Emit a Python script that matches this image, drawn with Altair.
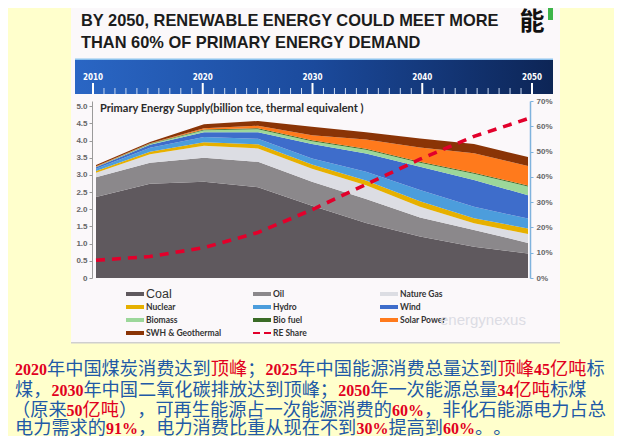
import altair as alt
import pandas as pd

# ---------------- data ----------------
years = [2010, 2015, 2020, 2025, 2030, 2035, 2040, 2045, 2050]
sources = ["Coal", "Oil", "Nature Gas", "Nuclear", "Hydro", "Wind",
           "Biomass", "Bio fuel", "Solar Power", "SWH & Geothermal"]
coal    = [2.36, 2.74, 2.80, 2.64, 2.10, 1.60, 1.21, 0.91, 0.71]
oil     = [0.57, 0.61, 0.70, 0.74, 0.70, 0.70, 0.55, 0.49, 0.31]
gas     = [0.13, 0.25, 0.35, 0.39, 0.38, 0.40, 0.31, 0.19, 0.26]
nuclear = [0.05, 0.07, 0.10, 0.12, 0.12, 0.14, 0.16, 0.15, 0.16]
hydro   = [0.07, 0.12, 0.15, 0.16, 0.18, 0.25, 0.33, 0.33, 0.29]
wind    = [0.04, 0.09, 0.14, 0.19, 0.42, 0.53, 0.68, 0.78, 0.68]
biomass = [0.01, 0.02, 0.06, 0.09, 0.08, 0.11, 0.11, 0.18, 0.25]
biofuel = [0.01, 0.01, 0.02, 0.03, 0.03, 0.03, 0.03, 0.03, 0.03]
solar   = [0.01, 0.01, 0.04, 0.07, 0.14, 0.27, 0.42, 0.57, 0.57]
swh     = [0.04, 0.04, 0.11, 0.14, 0.25, 0.21, 0.26, 0.27, 0.26]
re_share = [0.07, 0.085, 0.12, 0.18, 0.27, 0.37, 0.47, 0.56, 0.63]

colors = ["#5F595E", "#8B888B", "#DCDDE3", "#E6B000", "#4C9DDC",
          "#3E6DCB", "#9CD79A", "#3A6B26", "#FF7A1C", "#8A3406"]
RE_COLOR = "#E2002B"

left_ticks = [0, 0.5, 1.0, 1.5, 2.0, 2.5, 3.0, 3.5, 4.0, 4.5, 5.0]
right_ticks = [0, 0.1, 0.2, 0.3, 0.4, 0.5, 0.6, 0.7]
band_years = list(range(2010, 2051))
band_labels = [2010, 2020, 2030, 2040, 2050]

title_lines = ["BY 2050, RENEWABLE ENERGY COULD MEET MORE",
               "THAN 60% OF PRIMARY ENERGY DEMAND"]
chart_title = "Primary Energy Supply(billion tce, thermal equivalent  )"
legend_names = ["Coal", "Oil", "Nature Gas", "Nuclear", "Hydro", "Wind",
                "Biomass", "Bio fuel", "Solar Power", "SWH & Geothermal", "RE Share"]

cn_lines = [
    [("2020", "r"), ("年中国煤炭消费达到", "b"), ("顶峰", "r"), ("；", "b"), ("2025", "r"),
     ("年中国能源消费总量达到", "b"), ("顶峰", "r"), ("45", "r"), ("亿吨", "r"), ("标", "b")],
    [("煤，", "b"), ("2030", "r"), ("年中国二氧化碳排放达到顶峰；", "b"), ("2050", "r"),
     ("年一次能源总量", "b"), ("34", "r"), ("亿吨", "r"), ("标煤", "b")],
    [("（原来", "b"), ("50", "r"), ("亿吨", "r"), ("）", "b"), ("，可再生能源占一次能源消费的", "b"),
     ("60%", "r"), ("，非化石能源电力占总", "b")],
    [("电力需求的", "b"), ("91%", "r"), ("，电力消费比重从现在不到", "b"), ("30%", "r"),
     ("提高到", "b"), ("60%", "r"), ("。", "b"), ("。", "b")],
]

# ---------------- layout ----------------
W, H = 432, 177
PAD = {"left": 88, "top": 93, "right": 86, "bottom": 158}
OX, OY = 96, 101            # page position of plot origin
def px(r): return r - OX
def py(r): return r - OY

BG = "#FFFFCC"
PANEL = "#FBF8FA"
BLUE_T = "#2159A6"
RED_T = "#E1001E"

def pos(xf="x", yf="y"):
    return dict(x=alt.X(f"{xf}:Q", scale=None, axis=None),
                y=alt.Y(f"{yf}:Q", scale=None, axis=None))

def rect_layer(x1, x2, y1, y2, **mk):
    df = pd.DataFrame({"x": [px(x1)], "x2": [px(x2)], "y": [py(y1)], "y2": [py(y2)]})
    return alt.Chart(df).mark_rect(**mk).encode(
        x=alt.X("x:Q", scale=None, axis=None), x2="x2:Q",
        y=alt.Y("y:Q", scale=None, axis=None), y2="y2:Q")

# panel
panel = rect_layer(71, 560, 8, 343, fill=PANEL)
panel_edge = rect_layer(71, 560, 342, 343.5, fill="#CFCFCF")

# timeline band
band = rect_layer(75, 553, 59, 94, fill=alt.Gradient(
    gradient="linear", x1=0, x2=1, y1=0, y2=0,
    stops=[alt.GradientStop(color="#2A66C4", offset=0),
           alt.GradientStop(color="#1B4A9C", offset=0.5),
           alt.GradientStop(color="#0D2556", offset=1)]))
band_top = rect_layer(75, 553, 58.5, 60, fill="#8EC3EE")
band_scale = alt.Scale(domain=[2010, 2050], range=[93 - OX, 532 - OX], nice=False, zero=False)
tick_df = pd.DataFrame({"year": band_years,
                        "major": [y in band_labels for y in band_years]})
minor_ticks = alt.Chart(tick_df).transform_filter("!datum.major").mark_rule(
    color="#C9D9F2", strokeWidth=1).encode(
    x=alt.X("year:Q", scale=band_scale, axis=None),
    y=alt.value(py(88)), y2=alt.value(py(94)))
major_ticks = alt.Chart(tick_df).transform_filter("datum.major").mark_rule(
    color="#FFFFFF", strokeWidth=2).encode(
    x=alt.X("year:Q", scale=band_scale, axis=None),
    y=alt.value(py(83)), y2=alt.value(py(94)))
band_text = alt.Chart(pd.DataFrame({"year": band_labels})).mark_text(
    font="DejaVu Sans Condensed", fontSize=8, fontWeight="bold", color="#FFFFFF",
    baseline="middle", align="center").encode(
    x=alt.X("year:Q", scale=band_scale, axis=None),
    y=alt.value(py(77.5)), text="year:N")

# titles
title_df = pd.DataFrame({"x": [px(81), px(81)], "y": [py(25.8), py(47.6)], "t": title_lines})
titles = alt.Chart(title_df).mark_text(
    font="Liberation Sans", fontSize=16.4, fontWeight="bold", color="#1C1C1C",
    align="left", baseline="alphabetic").encode(**pos(), text="t:N")

logo = alt.Chart(pd.DataFrame({"x": [px(532)], "y": [py(22)], "t": ["能"]})).mark_text(
    font="Noto Sans CJK SC", fontSize=25, fontWeight="bold", color="#111111",
    align="center", baseline="middle").encode(**pos(), text="t:N")
logo_green = rect_layer(548, 553, 8, 20, fill="#3DB54A")

# plot
rows = []
for i, (s, vals) in enumerate(zip(sources, [coal, oil, gas, nuclear, hydro, wind,
                                            biomass, biofuel, solar, swh])):
    for yr, v in zip(years, vals):
        rows.append({"year": yr, "source": s, "value": v, "ord": i})
area_df = pd.DataFrame(rows)
xscale = alt.Scale(domain=[2010, 2050], nice=False, zero=False)

areas = alt.Chart(area_df).mark_area(interpolate="linear").encode(
    x=alt.X("year:Q", scale=xscale, axis=None),
    y=alt.Y("value:Q", stack="zero", scale=alt.Scale(domain=[0, 5.15], nice=False),
            axis=alt.Axis(values=left_ticks, title=None, grid=False, offset=4, zindex=2,
                          labelExpr="datum.value == 0 ? '0' : format(datum.value, '.1f')",
                          labelFont="Liberation Sans", labelFontSize=8, labelFontWeight="bold",
                          labelColor="#666666", domainColor="#9A9A9A", tickColor="#9A9A9A",
                          tickSize=3, labelPadding=2)),
    color=alt.Color("source:N", scale=alt.Scale(domain=sources, range=colors), legend=None),
    order=alt.Order("ord:Q", sort="ascending"),
)

line = alt.Chart(pd.DataFrame({"year": years, "re": re_share})).mark_line(
    color=RE_COLOR, strokeWidth=3.6, strokeDash=[9, 7]).encode(
    x=alt.X("year:Q", scale=xscale, axis=None),
    y=alt.Y("re:Q", scale=alt.Scale(domain=[0, 0.7], nice=False),
            axis=alt.Axis(orient="right", values=right_ticks, format=".0%", title=None,
                          grid=False, offset=2, zindex=2, labelFont="Liberation Sans",
                          labelFontSize=8, labelFontWeight="bold", labelColor="#666666",
                          domainColor="#7FB3DD", domainWidth=1.5, tickColor="#7FB3DD",
                          tickSize=3, labelPadding=3)),
)

inner_title = alt.Chart(pd.DataFrame({"x": [px(100)], "y": [py(109)], "t": [chart_title]})).mark_text(
    font="Lato", fontSize=11, fontWeight="bold", color="#2A2A2A",
    align="left", baseline="middle").encode(**pos(), text="t:N")

# legend
sw_x = [126, 253, 380]
tx_x = [146, 273, 400]
row_y = [294, 307, 320, 333]
leg_rows = []
for i, n in enumerate(legend_names):
    c, r = i % 3, i // 3
    leg_rows.append({"x": px(sw_x[c]), "x2": px(sw_x[c] + 18), "y": py(row_y[r] - 2),
                     "y2": py(row_y[r] + 2), "tx": px(tx_x[c]), "ty": py(row_y[r]),
                     "t": n, "col": colors[i] if i < len(colors) else RE_COLOR})
leg_df = pd.DataFrame(leg_rows)
leg_sw = alt.Chart(leg_df).transform_filter("datum.t != 'RE Share'").mark_rect().encode(
    x=alt.X("x:Q", scale=None, axis=None), x2="x2:Q",
    y=alt.Y("y:Q", scale=None, axis=None), y2="y2:Q",
    fill=alt.Fill("col:N", scale=None))
leg_re = alt.Chart(leg_df).transform_filter("datum.t == 'RE Share'").mark_rule(
    color=RE_COLOR, strokeWidth=2, strokeDash=[7, 4]).encode(
    x=alt.X("x:Q", scale=None, axis=None), x2="x2:Q",
    y=alt.Y("ty:Q", scale=None, axis=None))
leg_txt = alt.Chart(leg_df).transform_filter("datum.t != 'Coal'").mark_text(
    font="Lato", fontSize=8.5, fontWeight="bold", color="#333333",
    align="left", baseline="middle").encode(**pos("tx", "ty"), text="t:N")
leg_coal = alt.Chart(leg_df).transform_filter("datum.t == 'Coal'").mark_text(
    font="Liberation Sans", fontSize=12.5, color="#333333",
    align="left", baseline="middle").encode(**pos("tx", "ty"), text="t:N")

watermark = alt.Chart(pd.DataFrame({"x": [px(440)], "y": [py(320)], "t": ["energynexus"]})).mark_text(
    font="Liberation Sans", fontSize=15, color="#DCDCE4",
    align="left", baseline="middle").encode(**pos(), text="t:N")

# Chinese text
LINE_Y = [370.0, 390.5, 411.0, 429.2]
LINE_X0 = [15.0, 15.0, 12.0, 15.0]
CJK_FS = 18.2
CJK_W, DIG_W, PCT_W = CJK_FS, 8.0, 16.0
def run_w(t):
    return sum(DIG_W if ch.isdigit() else (PCT_W if ch == "%" else CJK_W) for ch in t)
cjk_rows, num_rows = [], []
for ly, x0, runs in zip(LINE_Y, LINE_X0, cn_lines):
    xx = x0
    for text, col in runs:
        isnum = all(ch.isdigit() or ch == "%" for ch in text)
        (num_rows if isnum else cjk_rows).append(
            {"x": px(xx), "y": py(ly), "t": text, "c": RED_T if col == "r" else BLUE_T})
        xx += run_w(text)
cjk_txt = alt.Chart(pd.DataFrame(cjk_rows)).mark_text(
    font="Noto Sans CJK SC", fontSize=CJK_FS, align="left", baseline="middle").encode(
    **pos(), text="t:N", color=alt.Color("c:N", scale=None))
num_txt = alt.Chart(pd.DataFrame(num_rows)).mark_text(
    font="Liberation Serif", fontSize=16, fontWeight="bold", align="left", baseline="middle").encode(
    **pos(), text="t:N", color=alt.Color("c:N", scale=None))

chart = alt.layer(
    panel, panel_edge, band, band_top, minor_ticks, major_ticks, band_text,
    titles, logo, logo_green, areas, line, inner_title,
    leg_sw, leg_re, leg_txt, leg_coal, watermark, cjk_txt, num_txt,
).resolve_scale(
    x="independent", y="independent", color="independent", fill="independent"
).properties(
    width=W, height=H, padding=PAD, autosize=alt.AutoSizeParams(type="none"),
    background=BG,
).configure_view(stroke=None)

chart.save("out.html", embed_options={"renderer": "svg", "actions": False})
